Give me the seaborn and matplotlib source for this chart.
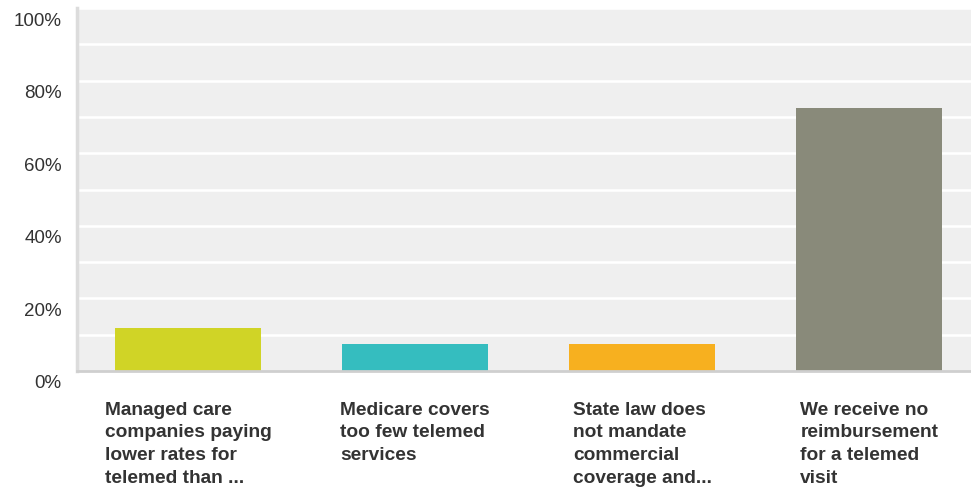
import matplotlib
matplotlib.use("Agg")
import matplotlib.pyplot as plt
import matplotlib.transforms as mtransforms
import pandas as pd
import seaborn as sns

categories = [
    "Managed care\ncompanies paying\nlower rates for\ntelemed than ...",
    "Medicare covers\ntoo few telemed\nservices",
    "State law does\nnot mandate\ncommercial\ncoverage and...",
    "We receive no\nreimbursement\nfor a telemed\nvisit",
]
percentages = [11.8, 7.4, 7.4, 72.4]
bar_colors = ["#d0d426", "#35bdbf", "#f7b01f", "#898a7a"]
y_ticks = [0, 20, 40, 60, 80, 100]
y_tick_labels = ["0%", "20%", "40%", "60%", "80%", "100%"]

df = pd.DataFrame({"answer": categories, "pct": percentages})

sns.set_theme(style="white")
plt.rcParams["font.family"] = ["Liberation Sans", "DejaVu Sans"]

fig = plt.figure(figsize=(9.71, 4.93), dpi=100)
ax = fig.add_axes([77 / 971, (493 - 371) / 493, (971 - 77) / 971, (371 - 8) / 493])
ax.set_facecolor("#efefef")

sns.barplot(data=df, x="answer", y="pct", hue="answer", palette=bar_colors,
            width=0.643, legend=False, ax=ax, zorder=3, saturation=1,
            linewidth=0)

ax.set_ylim(0, 100)
ax.set_xlim(-0.49, 3.448)

# white gridlines every 10%
for v in range(10, 101, 10):
    ax.axhline(v, color="white", linewidth=1.8, zorder=1)

ax.set_yticks(y_ticks)
ax.set_yticklabels(y_tick_labels, fontsize=13.5, color="#333333")
ax.tick_params(axis="y", length=0, pad=11)
offset = mtransforms.ScaledTranslation(0, -11 / 100, fig.dpi_scale_trans)
for lbl in ax.get_yticklabels():
    lbl.set_transform(lbl.get_transform() + offset)

ax.tick_params(axis="x", length=0, pad=22)
for lbl in ax.get_xticklabels():
    lbl.set_fontsize(13.8)
    lbl.set_fontweight("bold")
    lbl.set_color("#333333")
    lbl.set_ha("center")
    lbl.set_va("top")
    lbl.set_multialignment("left")
    lbl.set_linespacing(1.45)

ax.set_xlabel("")
ax.set_ylabel("")

for side in ["top", "right"]:
    ax.spines[side].set_visible(False)
ax.spines["left"].set_color("#dcdcdc")
ax.spines["left"].set_linewidth(2.5)
ax.spines["bottom"].set_color("#cfcfcf")
ax.spines["bottom"].set_linewidth(2)
ax.spines["bottom"].set_zorder(4)

fig.savefig("out.png", dpi=100)
